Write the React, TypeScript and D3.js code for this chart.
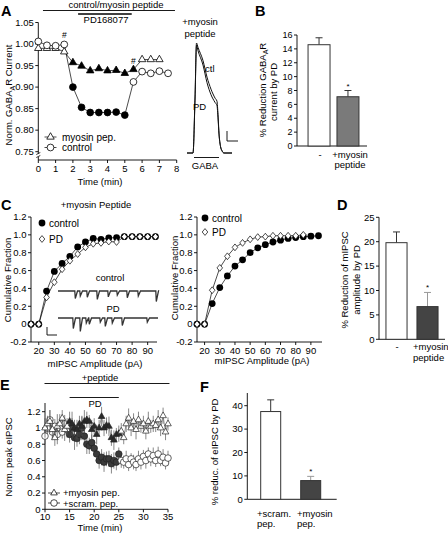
import React from "react";
import * as d3 from "d3";

const FONT = "Arial, 'Liberation Sans', Helvetica, sans-serif";
const FS = 9.5;
const TFS = 9;

// ---------------- Panel A ----------------
const aTimeControl = [0, 0.5, 1, 1.5, 2, 2.5, 3, 3.5, 4, 4.5, 5, 5.5, 6, 6.5, 7, 7.5];
const aControl = [1.006, 0.997, 0.996, 0.999, 0.9, 0.853, 0.841, 0.841, 0.841, 0.842, 0.835, 0.912, 0.936, 0.932, 0.937, 0.932];
const aControlFilled = [0, 0, 0, 0, 1, 1, 1, 1, 1, 1, 1, 0, 0, 0, 0, 0];
const aTimeMyosin = [0, 0.5, 1, 1.5, 2, 2.5, 3, 3.5, 4, 4.5, 5, 5.5, 6, 6.5, 7];
const aMyosin = [0.99, 0.99, 0.99, 0.982, 0.957, 0.949, 0.938, 0.943, 0.938, 0.939, 0.932, 0.941, 0.964, 0.964, 0.964];
const aMyosinFilled = [0, 0, 0, 0, 1, 1, 1, 1, 1, 1, 1, 1, 0, 0, 0];
const aYTicks = [0.75, 0.8, 0.85, 0.9, 0.95, 1.0, 1.05];
const aXTicks = [0, 1, 2, 3, 4, 5, 6, 7, 8];
const aHashTimes = [1.5, 5.5];
const aHashValues = [1.014, 0.953];
const aPeptidePeriod = [0.27, 7.9];
const aPDPeriod = [2.3, 5.4];

// GABA current trace (inset of A)
const traceT = [0, 6, 8, 9.5, 11, 16, 20, 24, 28, 30, 31, 32, 33.5, 35, 37, 45];
const traceCtl = [0, 0, 0.5, 1.0, 0.96, 0.84, 0.69, 0.58, 0.5, 0.47, 0.35, 0.18, 0.06, 0.02, 0, 0];
const tracePD = [0, 0, 0.48, 0.98, 0.93, 0.8, 0.64, 0.53, 0.46, 0.43, 0.32, 0.17, 0.06, 0.02, 0, 0];

// ---------------- Panel B ----------------
const bCats = ["-", "+myosin peptide"];
const bVals = [14.6, 7.1];
const bErrs = [1.0, 0.9];
const bTicks = [0, 2, 4, 6, 8, 10, 12, 14, 16];

// ---------------- Panel C ----------------
const cAmps = [15, 20, 25, 30, 35, 40, 45, 50, 55, 60, 65, 70, 75, 80, 85, 90, 95];
const cLeftControl = [0, 0, 0.37, 0.59, 0.68, 0.76, 0.865, 0.92, 0.96, 0.95, 0.965, 0.97, 0.98, 0.98, 0.98, 0.98, 0.98];
const cLeftPD = [0, 0, 0.3, 0.47, 0.615, 0.71, 0.785, 0.86, 0.9, 0.91, 0.925, 0.92, 0.98, 0.98, 0.98, 0.98, 0.98];
const cRightControl = [0, 0, 0.23, 0.41, 0.54, 0.65, 0.72, 0.8, 0.855, 0.89, 0.92, 0.94, 0.96, 0.97, 0.98, 0.985, 0.99];
const cRightPD = [0, 0, 0.38, 0.63, 0.76, 0.86, 0.91, 0.95, 0.975, 0.98, 0.99, 0.99, 0.99, 0.99, 1.0];
const cYTicks = [-0.2, 0, 0.2, 0.4, 0.6, 0.8, 1.0, 1.2];
const cXTicks = [20, 30, 40, 50, 60, 70, 80, 90];
// mIPSC example traces (time s, amplitude pA)
const ctlSpikeT = [1.7, 2.2, 2.9, 3.9, 5.0, 5.9, 6.9, 8.0, 9.8];
const ctlSpikeA = [18, 12, 15, 20, 14, 10, 16, 12, 25];
const pdSpikeT = [1.5, 2.2, 2.8, 3.1, 4.2, 4.7, 5.4, 6.4, 8.9];
const pdSpikeA = [25, 32, 12, 15, 10, 20, 12, 18, 10];

// ---------------- Panel D ----------------
const dCats = ["-", "+myosin peptide"];
const dVals = [19.8, 6.7];
const dErrs = [2.2, 2.9];
const dTicks = [0, 5, 10, 15, 20, 25];

// ---------------- Panel E ----------------
const eTimes = d3.range(10, 35.01, 0.5);
const eScram = [0.9, 1.0, 1.1, 0.95, 1.02, 0.92, 1.0, 0.95, 1.05, 0.98,
  0.92, 1.0, 0.88, 0.87, 0.92, 1.0, 0.9, 0.8, 0.78, 0.82,
  0.75, 0.68, 0.6, 0.64, 0.58, 0.62, 0.62, 0.56, 0.6, 0.58,
  0.68, 0.6, 0.58, 0.62, 0.55, 0.62, 0.58, 0.55, 0.62, 0.58,
  0.65, 0.6, 0.68, 0.62, 0.66, 0.6, 0.68, 0.6, 0.64, 0.57, 0.63];
const eScramErr = [0.1, 0.08, 0.12, 0.1, 0.09, 0.12, 0.1, 0.08, 0.11, 0.1,
  0.1, 0.12, 0.15, 0.1, 0.12, 0.15, 0.1, 0.12, 0.1, 0.1,
  0.1, 0.08, 0.1, 0.1, 0.12, 0.09, 0.1, 0.12, 0.1, 0.1,
  0.08, 0.09, 0.08, 0.1, 0.08, 0.07, 0.09, 0.08, 0.1, 0.09,
  0.08, 0.1, 0.08, 0.09, 0.1, 0.08, 0.09, 0.07, 0.1, 0.08, 0.09];
const eMyosin = [1.0, 1.05, 1.08, 0.98, 0.88, 1.02, 1.05, 1.12, 0.98, 1.02,
  1.08, 1.05, 1.0, 0.98, 1.05, 1.02, 1.08, 1.1, 1.08, 0.98,
  1.02, 0.92, 1.0, 1.14, 1.0, 1.03, 1.02, 0.88, 0.85, 0.92,
  0.93, 0.96, 0.88, 1.05, 1.12, 1.0, 1.08, 0.98, 1.1, 1.02,
  1.05, 0.96, 1.08, 1.02, 1.05, 1.03, 1.1, 1.0, 1.15, 0.95, 1.05];
const eMyosinErr = [0.12, 0.1, 0.14, 0.12, 0.1, 0.15, 0.12, 0.1, 0.14, 0.1,
  0.12, 0.15, 0.1, 0.12, 0.1, 0.12, 0.14, 0.1, 0.08, 0.12,
  0.1, 0.12, 0.1, 0.12, 0.1, 0.1, 0.12, 0.1, 0.12, 0.08,
  0.1, 0.1, 0.08, 0.1, 0.12, 0.1, 0.1, 0.12, 0.1, 0.08,
  0.1, 0.1, 0.12, 0.08, 0.1, 0.08, 0.12, 0.1, 0.1, 0.1, 0.08];
const ePDPeriod = [15, 25];
const ePeptidePeriod = [9.9, 35.3];
const eYTicks = [0, 0.2, 0.4, 0.6, 0.8, 1, 1.2];
const eYLabels = ["0", "0.2", "0.4", "0.6", "0.8", "1", "1.2"];
const eXTicks = [10, 15, 20, 25, 30, 35];

// ---------------- Panel F ----------------
const fCats = ["+scram. pep.", "+myosin pep."];
const fVals = [37.5, 8.0];
const fErrs = [5.0, 1.8];
const fTicks = [0, 10, 20, 30, 40];

// ---------------- helpers ----------------
const triPath = (size: number) => d3.symbol().type(d3.symbolTriangle).size(size)() as string;
const DIAMOND = "M0,-3.4L2.8,0L0,3.4L-2.8,0Z";
const SW = 0.9;

function YAxis({ scale, x, ticks, labels, top, bottom, fs = TFS }: any) {
  return (
    <g>
      <line x1={x} x2={x} y1={top} y2={bottom} stroke="#000" strokeWidth={SW} />
      {ticks.map((t: number, i: number) => (
        <g key={i}>
          <line x1={x - 3} x2={x} y1={scale(t)} y2={scale(t)} stroke="#000" strokeWidth={SW} />
          <text x={x - 4.5} y={scale(t)} dy="0.35em" textAnchor="end" fontSize={fs}>
            {labels ? labels[i] : String(t)}
          </text>
        </g>
      ))}
    </g>
  );
}

function XAxis({ scale, y, ticks, labels, left, right, fs = TFS, off = 11.5 }: any) {
  return (
    <g>
      <line x1={left} x2={right} y1={y} y2={y} stroke="#000" strokeWidth={SW} />
      {ticks.map((t: number, i: number) => (
        <g key={i}>
          <line x1={scale(t)} x2={scale(t)} y1={y} y2={y + 3} stroke="#000" strokeWidth={SW} />
          <text x={scale(t)} y={y + off} textAnchor="middle" fontSize={fs}>
            {labels ? labels[i] : String(t)}
          </text>
        </g>
      ))}
    </g>
  );
}

function Bars({ cats, vals, errs, xs, ys, fills, errColors, starIdx }: any) {
  return (
    <g>
      {cats.map((c: string, i: number) => {
        const x = xs(c);
        const w = xs.bandwidth();
        const yTop = ys(vals[i]);
        const yErr = ys(vals[i] + errs[i]);
        const cx = x + w / 2;
        return (
          <g key={c}>
            <line x1={cx} x2={cx} y1={yTop} y2={yErr} stroke={errColors[i]} strokeWidth={1} />
            <line x1={cx - 3.5} x2={cx + 3.5} y1={yErr} y2={yErr} stroke={errColors[i]} strokeWidth={1} />
            <rect x={x} y={yTop} width={w} height={ys(0) - yTop} fill={fills[i]} stroke="#333" strokeWidth={1} />
            {i === starIdx && (
              <text x={cx} y={yErr - 2} textAnchor="middle" fontSize={8}>*</text>
            )}
          </g>
        );
      })}
    </g>
  );
}

function spikeTrace(ts: number[], as: number[]) {
  const pts: [number, number][] = [[0, 0]];
  ts.forEach((t, i) => {
    pts.push([t - 0.02, 0]);
    pts.push([t + 0.03, -as[i]]);
    pts.push([t + 0.25, 0]);
  });
  pts.push([10, 0]);
  return pts;
}

export default function App() {
  // ---- A scales
  const ax = d3.scaleLinear().domain([0, 8]).range([38.3, 176.7]);
  const ay = d3.scaleLinear().domain([0.75, 1.05]).range([151.7, 22.5]);
  const aLineC = d3.line<number>().x((_, i) => ax(aTimeControl[i])).y((d) => ay(d));
  const aLineM = d3.line<number>().x((_, i) => ax(aTimeMyosin[i])).y((d) => ay(d));
  const tx = d3.scaleLinear().domain([0, 45]).range([187, 232]);
  const ty = d3.scaleLinear().domain([0, 1]).range([153, 43]);
  const trLineC = d3.line<number>().x((_, i) => tx(traceT[i])).y((d) => ty(d)).curve(d3.curveMonotoneX);

  // ---- B scales
  const bx = d3.scaleBand().domain(bCats).range([304, 363]).paddingInner(0.24).paddingOuter(0.14);
  const by = d3.scaleLinear().domain([0, 16]).range([146, 35]);

  // ---- C scales
  const cxL = d3.scaleLinear().domain([15, 96]).range([31, 157]);
  const cxR = d3.scaleLinear().domain([15, 96]).range([197, 320]);
  const cy = d3.scaleLinear().domain([-0.2, 1.2]).range([342, 217]);
  const trx = d3.scaleLinear().domain([0, 10]).range([58, 158]);
  const trLine = (base: number) =>
    d3.line<[number, number]>().x((d) => trx(d[0])).y((d) => base - d[1] * 0.42);

  // ---- D scales
  const dx = d3.scaleBand().domain(dCats).range([381, 443]).paddingInner(0.32).paddingOuter(0.16);
  const dy = d3.scaleLinear().domain([0, 25]).range([339.3, 217.3]);

  // ---- E scales
  const ex = d3.scaleLinear().domain([10, 35]).range([45, 168]);
  const ey = d3.scaleLinear().domain([0, 1.2]).range([509.3, 411.7]);

  // ---- F scales
  const fx = d3.scaleBand().domain(fCats).range([248.7, 332.7]).paddingInner(0.5).paddingOuter(0.3);
  const fy = d3.scaleLinear().domain([0, 40]).range([499.3, 405.7]);

  const cLine = (xs: any, arr: number[]) =>
    d3.line<number>().x((_, i) => xs(cAmps[i])).y((d) => cy(d))(arr) as string;

  const eLine = (arr: number[]) =>
    d3.line<number>().x((_, i) => ex(eTimes[i])).y((d) => ey(d))(arr) as string;
  const inPD = (t: number) => t >= ePDPeriod[0] && t <= ePDPeriod[1];

  const tri22 = triPath(24);
  const tri18 = triPath(19);

  return (
    <svg
      width={448}
      height={533}
      style={{ position: "absolute", left: 0, top: 0, background: "#fff" }}
      fontFamily={FONT}
    >
      <rect width={448} height={533} fill="#fff" />

      {/* ================= PANEL A ================= */}
      <text x={1} y={15.5} fontSize={14.5} fontWeight="bold">A</text>
      <line x1={ax(aPeptidePeriod[0])} x2={ax(aPeptidePeriod[1])} y1={10.5} y2={10.5} stroke="#000" strokeWidth={0.9} />
      <text x={116} y={8} textAnchor="middle" fontSize={FS}>control/myosin peptide</text>
      <line x1={ax(aPDPeriod[0])} x2={ax(aPDPeriod[1])} y1={14} y2={14} stroke="#000" strokeWidth={1.3} />
      <text x={106} y={23} textAnchor="middle" fontSize={FS}>PD168077</text>

      <YAxis scale={ay} x={38.3} ticks={aYTicks} labels={aYTicks.map((v) => v.toFixed(2))} top={22.5} bottom={153.5} fs={9.5} />
      <line x1={38.3} x2={38.3} y1={157} y2={160} stroke="#000" strokeWidth={SW} />
      <line x1={36.3} x2={40.3} y1={154.5} y2={152.5} stroke="#000" strokeWidth={0.8} />
      <line x1={36.3} x2={40.3} y1={157.5} y2={155.5} stroke="#000" strokeWidth={0.8} />
      <XAxis scale={ax} y={160} ticks={aXTicks} left={38.3} right={176.7} fs={9.5} />
      <text x={100} y={185} textAnchor="middle" fontSize={FS}>Time (min)</text>
      <text transform="translate(12,95) rotate(-90)" textAnchor="middle" fontSize={FS}>
        Norm.  GABA<tspan fontSize={7} dy={2.5}>A</tspan><tspan dy={-2.5}>R Current</tspan>
      </text>

      <path d={aLineM(aMyosin) as string} fill="none" stroke="#000" strokeWidth={0.7} />
      <path d={aLineC(aControl) as string} fill="none" stroke="#000" strokeWidth={0.7} />
      {aMyosin.map((v, i) => (
        <path key={"am" + i} d={tri22} transform={`translate(${ax(aTimeMyosin[i])},${ay(v)})`}
          fill={aMyosinFilled[i] ? "#000" : "#fff"} stroke="#000" strokeWidth={0.8} />
      ))}
      {aControl.map((v, i) => (
        <circle key={"ac" + i} cx={ax(aTimeControl[i])} cy={ay(v)} r={3.4}
          fill={aControlFilled[i] ? "#000" : "#fff"} stroke="#000" strokeWidth={0.8} />
      ))}
      {aHashTimes.map((t, i) => (
        <text key={"h" + i} x={ax(t)} y={ay(aHashValues[i])} textAnchor="middle" fontSize={8.5}>#</text>
      ))}
      {/* legend A */}
      <line x1={44.5} x2={56.5} y1={137} y2={137} stroke="#000" strokeWidth={0.7} />
      <path d={tri22} transform="translate(50.5,137)" fill="#fff" stroke="#000" strokeWidth={0.8} />
      <text x={62} y={140.5} fontSize={10}>myosin pep.</text>
      <line x1={44.5} x2={56.5} y1={147.5} y2={147.5} stroke="#000" strokeWidth={0.7} />
      <circle cx={50.5} cy={147.5} r={3.4} fill="#fff" stroke="#000" strokeWidth={0.8} />
      <text x={62} y={151} fontSize={10}>control</text>

      {/* A inset trace */}
      <text x={200} y={25} textAnchor="middle" fontSize={FS}>+myosin</text>
      <text x={200} y={37} textAnchor="middle" fontSize={FS}>peptide</text>
      <path d={trLineC(traceCtl) as string} fill="none" stroke="#111" strokeWidth={1} />
      <path d={trLineC(tracePD) as string} fill="none" stroke="#111" strokeWidth={1} />
      <text x={205} y={72} fontSize={FS}>ctl</text>
      <text x={193} y={110} fontSize={FS}>PD</text>
      <line x1={227} x2={227} y1={131} y2={141} stroke="#000" strokeWidth={0.9} />
      <line x1={227} x2={238} y1={141} y2={141} stroke="#000" strokeWidth={0.9} />
      <line x1={tx(7)} x2={tx(32)} y1={157.5} y2={157.5} stroke="#000" strokeWidth={0.9} />
      <text x={205} y={169} textAnchor="middle" fontSize={FS}>GABA</text>

      {/* ================= PANEL B ================= */}
      <text x={255} y={15.5} fontSize={14.5} fontWeight="bold">B</text>
      <YAxis scale={by} x={297} ticks={bTicks} top={35} bottom={146} fs={9} />
      <line x1={297} x2={367} y1={146} y2={146} stroke="#000" strokeWidth={SW} />
      <Bars cats={bCats} vals={bVals} errs={bErrs} xs={bx} ys={by} fills={["#fff", "#7a7a7a"]} errColors={["#333", "#333"]} starIdx={1} />
      <text x={320} y={158} textAnchor="middle" fontSize={FS}>-</text>
      <text x={350} y={158} textAnchor="middle" fontSize={FS}>+myosin</text>
      <text x={350} y={168} textAnchor="middle" fontSize={FS}>peptide</text>
      <text transform="translate(265.5,90) rotate(-90)" textAnchor="middle" fontSize={FS}>
        % Reduction GABA<tspan fontSize={7} dy={2.5}>A</tspan><tspan dy={-2.5}>R</tspan>
      </text>
      <text transform="translate(277,92) rotate(-90)" textAnchor="middle" fontSize={FS}>current by PD</text>

      {/* ================= PANEL C left ================= */}
      <text x={1} y={210} fontSize={14.5} fontWeight="bold">C</text>
      <text x={96} y={208} textAnchor="middle" fontSize={FS}>+myosin Peptide</text>
      <YAxis scale={cy} x={31} ticks={cYTicks} labels={cYTicks.map((v) => (v === 0 ? "0" : v.toFixed(1)))} top={217} bottom={342} fs={9.5} />
      <XAxis scale={cxL} y={342} ticks={cXTicks} left={31} right={157} fs={9.5} />
      <text x={95} y={367} textAnchor="middle" fontSize={FS}>mIPSC Amplitude (pA)</text>
      <text transform="translate(10.5,280) rotate(-90)" textAnchor="middle" fontSize={FS}>Cumulative Fraction</text>
      <path d={cLine(cxL, cLeftControl)} fill="none" stroke="#000" strokeWidth={0.7} />
      <path d={cLine(cxL, cLeftPD)} fill="none" stroke="#000" strokeWidth={0.7} />
      {cLeftControl.map((v, i) => (
        <circle key={"clc" + i} cx={cxL(cAmps[i])} cy={cy(v)} r={3.4} fill="#000" />
      ))}
      {cLeftPD.map((v, i) => (
        <path key={"clp" + i} d={DIAMOND} transform={`translate(${cxL(cAmps[i])},${cy(v)})`} fill="#fff" stroke="#000" strokeWidth={0.7} />
      ))}
      <circle cx={42} cy={223} r={3.4} fill="#000" />
      <text x={49} y={226.5} fontSize={10}>control</text>
      <path d={DIAMOND} transform="translate(42,239)" fill="#fff" stroke="#000" strokeWidth={0.7} />
      <text x={49} y={242.5} fontSize={10}>PD</text>
      {/* inset mIPSC traces */}
      <text x={110} y={281} textAnchor="middle" fontSize={FS}>control</text>
      <path d={trLine(291)(spikeTrace(ctlSpikeT, ctlSpikeA)) as string} fill="none" stroke="#333" strokeWidth={1.3} />
      <text x={113} y={312} textAnchor="middle" fontSize={FS}>PD</text>
      <path d={trLine(318)(spikeTrace(pdSpikeT, pdSpikeA)) as string} fill="none" stroke="#333" strokeWidth={1.3} />
      <line x1={47} x2={47} y1={327} y2={335} stroke="#000" strokeWidth={0.9} />
      <line x1={47} x2={57} y1={335} y2={335} stroke="#000" strokeWidth={0.9} />

      {/* ================= PANEL C right ================= */}
      <YAxis scale={cy} x={197} ticks={cYTicks} labels={cYTicks.map((v) => (v === 0 ? "0" : v.toFixed(1)))} top={217} bottom={342} fs={9.5} />
      <XAxis scale={cxR} y={342} ticks={cXTicks} left={197} right={322} fs={9.5} />
      <text x={262} y={364} textAnchor="middle" fontSize={FS}>mIPSC Amplitude (pA)</text>
      <text transform="translate(178,278) rotate(-90)" textAnchor="middle" fontSize={FS}>Cumulative Fraction</text>
      <path d={cLine(cxR, cRightControl)} fill="none" stroke="#000" strokeWidth={0.7} />
      <path d={cLine(cxR, cRightPD)} fill="none" stroke="#000" strokeWidth={0.7} />
      {cRightControl.map((v, i) => (
        <circle key={"crc" + i} cx={cxR(cAmps[i])} cy={cy(v)} r={3.4} fill="#000" />
      ))}
      {cRightPD.map((v, i) => (
        <path key={"crp" + i} d={DIAMOND} transform={`translate(${cxR(cAmps[i])},${cy(v)})`} fill="#fff" stroke="#000" strokeWidth={0.7} />
      ))}
      <circle cx={205} cy={218} r={3.4} fill="#000" />
      <text x={212} y={221.5} fontSize={10}>control</text>
      <path d={DIAMOND} transform="translate(205,232)" fill="#fff" stroke="#000" strokeWidth={0.7} />
      <text x={212} y={235.5} fontSize={10}>PD</text>

      {/* ================= PANEL D ================= */}
      <text x={337} y={210} fontSize={14.5} fontWeight="bold">D</text>
      <YAxis scale={dy} x={379} ticks={dTicks} top={217.3} bottom={339.3} fs={9.5} />
      <line x1={379} x2={445} y1={339.3} y2={339.3} stroke="#000" strokeWidth={SW} />
      <Bars cats={dCats} vals={dVals} errs={dErrs} xs={dx} ys={dy} fills={["#fff", "#444"]} errColors={["#333", "#999"]} starIdx={1} />
      <text x={397} y={350} textAnchor="middle" fontSize={FS}>-</text>
      <text x={413} y={350} fontSize={FS}>+myosin</text>
      <text x={413} y={360.5} fontSize={FS}>peptide</text>
      <text transform="translate(347.5,280) rotate(-90)" textAnchor="middle" fontSize={FS}>% Reduction of mIPSC</text>
      <text transform="translate(359.5,280) rotate(-90)" textAnchor="middle" fontSize={FS}>amplitude by PD</text>

      {/* ================= PANEL E ================= */}
      <text x={0} y={390} fontSize={14.5} fontWeight="bold">E</text>
      <line x1={ex(ePeptidePeriod[0])} x2={ex(ePeptidePeriod[1])} y1={383.5} y2={383.5} stroke="#000" strokeWidth={0.9} />
      <text x={100} y={381} textAnchor="middle" fontSize={FS}>+peptide</text>
      <line x1={ex(ePDPeriod[0])} x2={ex(ePDPeriod[1])} y1={397.5} y2={397.5} stroke="#000" strokeWidth={0.9} />
      <text x={95} y={407} textAnchor="middle" fontSize={FS}>PD</text>
      <YAxis scale={ey} x={45} ticks={eYTicks} labels={eYLabels} top={403} bottom={509.3} fs={9.5} />
      <XAxis scale={ex} y={509.3} ticks={eXTicks} left={45} right={168} fs={9.5} off={10.5} />
      <text x={100} y={531} textAnchor="middle" fontSize={FS}>Time (min)</text>
      <text transform="translate(12,457) rotate(-90)" textAnchor="middle" fontSize={FS}>Norm. peak eIPSC</text>

      {/* scram series */}
      <path d={eLine(eScram)} fill="none" stroke="#555" strokeWidth={0.6} />
      {eScram.map((v, i) => (
        <line key={"ese" + i} x1={ex(eTimes[i])} x2={ex(eTimes[i])} y1={ey(v - eScramErr[i])} y2={ey(v + eScramErr[i])} stroke="#555" strokeWidth={0.7} />
      ))}
      {eScram.map((v, i) => (
        <circle key={"es" + i} cx={ex(eTimes[i])} cy={ey(v)} r={3.3}
          fill={inPD(eTimes[i]) ? "#3a3a3a" : "#fff"} stroke="#222" strokeWidth={0.7} />
      ))}
      {/* myosin series */}
      <path d={eLine(eMyosin)} fill="none" stroke="#555" strokeWidth={0.6} />
      {eMyosin.map((v, i) => (
        <line key={"eme" + i} x1={ex(eTimes[i])} x2={ex(eTimes[i])} y1={ey(v - eMyosinErr[i])} y2={ey(v + eMyosinErr[i])} stroke="#555" strokeWidth={0.7} />
      ))}
      {eMyosin.map((v, i) => (
        <path key={"em" + i} d={tri18} transform={`translate(${ex(eTimes[i])},${ey(v)})`}
          fill={inPD(eTimes[i]) ? "#2a2a2a" : "#fff"} stroke="#222" strokeWidth={0.7} />
      ))}
      {/* legend E */}
      <line x1={48} x2={60} y1={493} y2={493} stroke="#000" strokeWidth={0.7} />
      <path d={tri18} transform="translate(54,493)" fill="#fff" stroke="#000" strokeWidth={0.7} />
      <text x={63} y={496} fontSize={9.5}>+myosin pep.</text>
      <line x1={48} x2={60} y1={503} y2={503} stroke="#000" strokeWidth={0.7} />
      <circle cx={54} cy={503} r={3.3} fill="#fff" stroke="#000" strokeWidth={0.7} />
      <text x={63} y={506.5} fontSize={9.5}>+scram. pep.</text>

      {/* ================= PANEL F ================= */}
      <text x={200} y={392} fontSize={14.5} fontWeight="bold">F</text>
      <YAxis scale={fy} x={247.3} ticks={fTicks} top={393} bottom={499.3} fs={9.5} />
      <line x1={247.3} x2={336.7} y1={499.3} y2={499.3} stroke="#000" strokeWidth={SW} />
      <Bars cats={fCats} vals={fVals} errs={fErrs} xs={fx} ys={fy} fills={["#fff", "#444"]} errColors={["#333", "#999"]} starIdx={1} />
      <text x={257} y={517} fontSize={FS}>+scram.</text>
      <text x={257} y={527} fontSize={FS}>pep.</text>
      <text x={297} y={517} fontSize={FS}>+myosin</text>
      <text x={297} y={527} fontSize={FS}>pep.</text>
      <text transform="translate(218,452) rotate(-90)" textAnchor="middle" fontSize={FS}>% reduc. of eIPSC by PD</text>
    </svg>
  );
}
